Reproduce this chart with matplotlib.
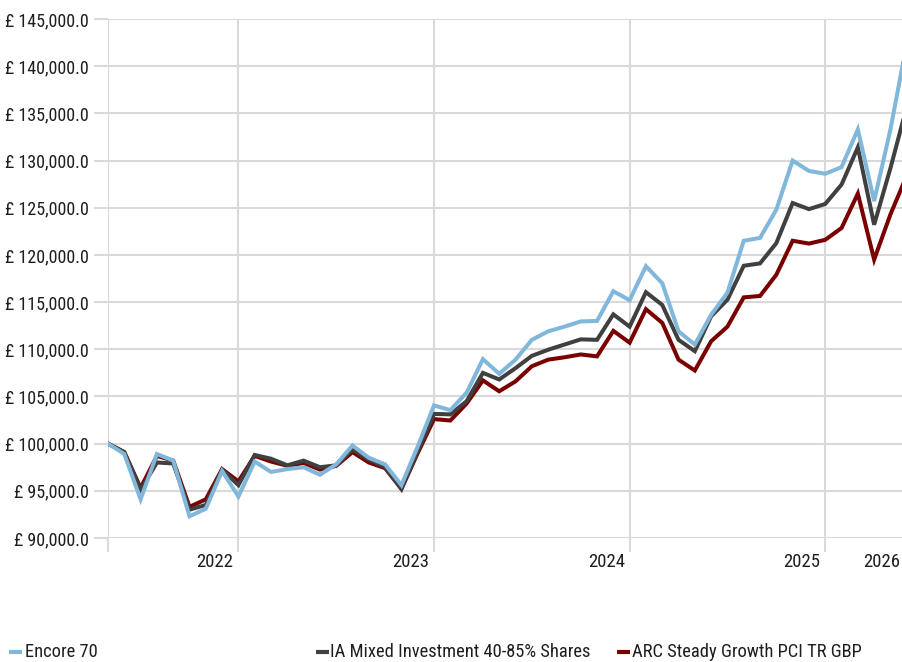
import matplotlib
matplotlib.use('Agg')
import matplotlib.pyplot as plt
from matplotlib.lines import Line2D
import matplotlib.transforms as mtransforms
from matplotlib import font_manager as fm

# narrow sans: take the first one that is installed
have = set(f.name for f in fm.fontManager.ttflist)
narrow = [n for n in ['Roboto Condensed', 'Archivo Narrow', 'Barlow Condensed'] if n in have]
plt.rcParams['font.family'] = narrow[:1] + ['DejaVu Sans']

# ── data (monthly values, £) ─────────────────────
encore = [100000, 98900, 94100, 98900, 98200, 92300, 93100, 97100, 94400, 98100,
          97000, 97300, 97500, 96700, 97800, 99800, 98500, 97800, 95600, 99700,
          104050, 103550, 105400, 108950, 107400, 108900, 111000, 111900, 112400, 112950,
          113000, 116150, 115200, 118800, 117000, 111900, 110500, 113650, 116000, 121500,
          121800, 124800, 130000, 128900, 128600, 129300, 133300, 125700, 133300, 142400]
ia_mixed = [100000, 99100, 95100, 98000, 97900, 93000, 93500, 97250, 95600, 98800,
            98400, 97700, 98200, 97500, 97700, 99400, 98300, 97500, 95200, 99200,
            103150, 103100, 104500, 107500, 106800, 108000, 109300, 109950, 110500, 111050,
            111000, 113700, 112400, 116050, 114700, 111000, 109800, 113500, 115250, 118850,
            119100, 121250, 125500, 124850, 125400, 127450, 131400, 123200, 129200, 135700]
arc_steady = [100000, 99100, 95300, 98700, 98200, 93300, 94100, 97300, 96000, 98700,
              98100, 97650, 97950, 97250, 97650, 99100, 98000, 97400, 95200, 99000,
              102600, 102450, 104250, 106700, 105550, 106600, 108200, 108900, 109150, 109450,
              109250, 111950, 110700, 114250, 112800, 108900, 107750, 110850, 112400, 115500,
              115650, 117900, 121500, 121200, 121600, 122850, 126500, 119500, 124300, 128400]

series_names = ['Encore 70', 'IA Mixed Investment 40-85% Shares', 'ARC Steady Growth PCI TR GBP']
series_colors = ['#80b7db', '#404040', '#7a0000']

year_ticks = [0, 8, 20, 32, 44]
year_labels = ['2022', '2023', '2024', '2025', '2026']
year_label_pos = [8, 20, 32, 44, 48.9]
y_ticks = list(range(90000, 145001, 5000))

grid_c = '#d9d9d9'
txt_c = '#1e1e1e'

fig = plt.figure(figsize=(9.03, 6.62), dpi=100)
ax = fig.add_axes([108 / 903, 1 - 538 / 662, 1 - 108 / 903, 519 / 662])

months = list(range(len(encore)))
# red under grey under blue
ax.plot(months, arc_steady, color=series_colors[2], lw=2.9, solid_joinstyle='miter', zorder=3)
ax.plot(months, ia_mixed, color=series_colors[1], lw=2.9, solid_joinstyle='miter', zorder=4)
ax.plot(months, encore, color=series_colors[0], lw=2.9, solid_joinstyle='miter', zorder=5)

ax.set_xlim(0, 48.77)
ax.set_ylim(90000, 145000)
for s in ax.spines.values():
    s.set_visible(False)

ax.set_xticks(year_ticks)
ax.set_xticklabels([])
ax.set_yticks(y_ticks)
ax.set_yticklabels(['£ {:,.1f}'.format(v) for v in y_ticks], fontsize=13, color=txt_c)
ax.grid(True, color=grid_c, lw=1.5, zorder=0)
ax.tick_params(axis='both', direction='out', length=10, width=1.5, color=grid_c)
ax.tick_params(axis='y', pad=4)

# year labels sit to the left of each gridline
off = mtransforms.offset_copy(ax.get_xaxis_transform(), fig=fig, x=-5, y=0, units='dots')
for pos, lab in zip(year_label_pos, year_labels):
    ax.text(pos, -0.046, lab, transform=off, ha='right', va='center', fontsize=13.5, color=txt_c)

# ── legend along the bottom ──────────────────────
leg_y = 1 - 652 / 662
leg_items = [(9, 25), (316, 330), (617, 632)]
for (mx, tx), name, col in zip(leg_items, series_names, series_colors):
    fig.add_artist(Line2D([mx / 903, (mx + 13) / 903], [leg_y, leg_y], color=col, lw=3.0,
                          solid_capstyle='butt', transform=fig.transFigure))
    fig.text(tx / 903, leg_y, name, ha='left', va='center', fontsize=13.3, color=txt_c)

fig.savefig('out.png', dpi=100, facecolor='white')
